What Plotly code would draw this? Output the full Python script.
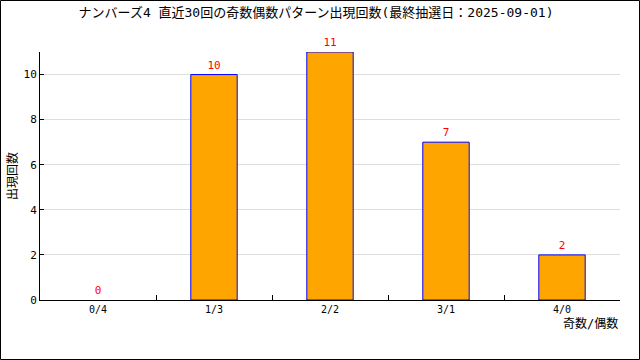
import plotly.graph_objects as go

# Odd/even pattern counts over the last 30 draws
patterns = ["0/4", "1/3", "2/2", "3/1", "4/0"]
counts = [0, 10, 11, 7, 2]

title_text = "ナンバーズ4 直近30回の奇数偶数パターン出現回数(最終抽選日：2025-09-01)"
x_title = "奇数/偶数"
y_title = "出現回数"

W, H = 640, 360
ML, MR, MT, MB = 40, 20, 52, 60
FONT = "DejaVu Sans Mono, Noto Sans CJK JP, monospace"

# a zero-height bar draws no outline
edge_widths = [1 if c > 0 else 0 for c in counts]

fig = go.Figure(
    go.Bar(
        x=patterns,
        y=counts,
        width=0.4,
        marker=dict(color="#FFA500", line=dict(color="#0000FF", width=edge_widths)),
        text=[str(c) for c in counts],
        textposition="outside",
        textfont=dict(color="#FF0000", size=11, family=FONT),
        cliponaxis=False,
    )
)

pw = W - ML - MR
ph = H - MT - MB

fig.update_layout(
    width=W,
    height=H,
    margin=dict(l=ML, r=MR, t=MT, b=MB),
    paper_bgcolor="white",
    plot_bgcolor="white",
    font=dict(family=FONT, size=11, color="black"),
    showlegend=False,
    title=dict(
        text=title_text,
        x=316 / W,
        xanchor="center",
        y=1 - 12 / H,
        yanchor="middle",
        font=dict(size=13, family=FONT, color="black"),
    ),
    xaxis=dict(
        showline=True,
        linecolor="black",
        linewidth=1,
        ticks="inside",
        ticklen=5,
        tickcolor="black",
        tickson="boundaries",
        showgrid=False,
        tickfont=dict(size=10, family=FONT),
    ),
    yaxis=dict(
        range=[0, 11],
        dtick=2,
        showline=True,
        linecolor="black",
        linewidth=1,
        showgrid=True,
        gridcolor="#DDDDDD",
        gridwidth=1,
        zeroline=False,
        ticks="inside",
        ticklen=4,
        tickcolor="black",
        tickfont=dict(size=11, family=FONT),
    ),
    bargap=0.6,
    annotations=[
        dict(
            text=x_title,
            xref="paper",
            yref="paper",
            x=1,
            y=-23 / ph,
            xanchor="right",
            yanchor="middle",
            showarrow=False,
            font=dict(size=12, family=FONT),
        ),
        dict(
            text=y_title,
            xref="paper",
            yref="paper",
            x=-28 / pw,
            y=0.5,
            xanchor="center",
            yanchor="middle",
            textangle=-90,
            showarrow=False,
            font=dict(size=12, family=FONT),
        ),
    ],
    shapes=[
        dict(
            type="rect",
            xref="paper",
            yref="paper",
            x0=-(ML - 0.5) / pw,
            x1=1 + (MR - 0.5) / pw,
            y0=-(MB - 0.5) / ph,
            y1=1 + (MT - 0.5) / ph,
            line=dict(color="black", width=1),
            fillcolor="rgba(0,0,0,0)",
            layer="above",
        )
    ],
)

fig.write_html("out.html")
